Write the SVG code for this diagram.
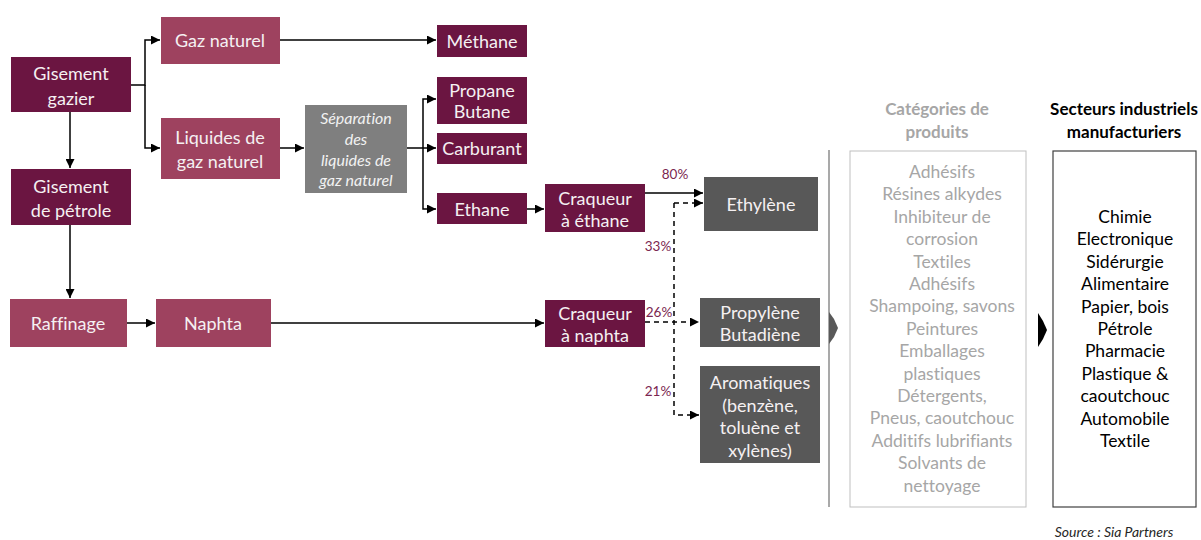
<svg xmlns="http://www.w3.org/2000/svg" width="1201" height="540" viewBox="0 0 1201 540">
<defs>
<marker id="ah" viewBox="0 0 10 10" refX="10" refY="5" markerWidth="9" markerHeight="9" markerUnits="userSpaceOnUse" orient="auto"><path d="M0,0 L10,5 L0,10 z" fill="#000"/></marker>
<style>
text{font-family:Lato,"Open Sans","Liberation Sans",sans-serif;text-anchor:middle;font-variant-ligatures:none;font-feature-settings:"liga" 0;}
.dk{fill:#6B1541;}
.md{fill:#9E425F;}
.gy{fill:#7F7F7F;}
.dg{fill:#585858;}
.wt{fill:#F5F0F2;font-size:18px;}
.it{fill:#F2F2F2;font-size:16px;font-style:italic;}
.ln{fill:none;stroke:#000;stroke-width:1.5;}
.ds{fill:none;stroke:#000;stroke-width:1.5;stroke-dasharray:5,4;}
.pc{fill:#7B2650;font-size:13.5px;}
.cat{fill:#A6A6A6;font-size:17.5px;}
.sec{fill:#000;font-size:17.5px;}
.ttl{font-size:17px;font-weight:bold;}
</style>
</defs>
<rect width="1201" height="540" fill="#fff"/>
<g id="connectors">
<path class="ln" d="M131,85 H145 V40 H160" marker-end="url(#ah)"/>
<path class="ln" d="M145,85 V148 H160" marker-end="url(#ah)"/>
<path class="ln" d="M70,112 V168" marker-end="url(#ah)"/>
<path class="ln" d="M70,224 V298" marker-end="url(#ah)"/>
<path class="ln" d="M280,40 H436" marker-end="url(#ah)"/>
<path class="ln" d="M280,148 H304" marker-end="url(#ah)"/>
<path class="ln" d="M407,148 H436" marker-end="url(#ah)"/>
<path class="ln" d="M423,148 V99 H436" marker-end="url(#ah)"/>
<path class="ln" d="M423,148 V209 H436" marker-end="url(#ah)"/>
<path class="ln" d="M527,209 H544" marker-end="url(#ah)"/>
<path class="ln" d="M127,323 H155" marker-end="url(#ah)"/>
<path class="ln" d="M271,323 H544" marker-end="url(#ah)"/>
<path class="ln" d="M645,193 H703" marker-end="url(#ah)"/>
<path class="ds" d="M645,322 H699" marker-end="url(#ah)"/>
<path class="ds" d="M674,203 V415 H699" marker-end="url(#ah)"/>
<path class="ds" d="M674,203 H703" marker-end="url(#ah)"/>
<text class="pc" x="675" y="179">80%</text>
<text class="pc" x="658" y="251">33%</text>
<text class="pc" x="659" y="317">26%</text>
<text class="pc" x="658" y="396">21%</text>
</g>
<g id="gisement-gazier"><rect class="dk" x="11" y="57" width="120" height="55"/><text class="wt" x="71" y="80">Gisement</text><text class="wt" x="71" y="105">gazier</text></g>
<g id="gisement-petrole"><rect class="dk" x="11" y="169" width="120" height="56"/><text class="wt" x="71" y="193">Gisement</text><text class="wt" x="71" y="217">de pétrole</text></g>
<g id="raffinage"><rect class="md" x="10" y="299" width="117" height="48"/><text class="wt" x="68" y="330">Raffinage</text></g>
<g id="naphta"><rect class="md" x="156" y="299" width="115" height="48"/><text class="wt" x="213" y="330">Naphta</text></g>
<g id="gaz-naturel"><rect class="md" x="161" y="17" width="119" height="47"/><text class="wt" x="220" y="47">Gaz naturel</text></g>
<g id="liquides"><rect class="md" x="161" y="118" width="119" height="61"/><text class="wt" x="220" y="144">Liquides de</text><text class="wt" x="220" y="168">gaz naturel</text></g>
<g id="separation"><rect class="gy" x="305" y="105" width="102" height="88"/><text class="it" x="356" y="124">Séparation</text><text class="it" x="356" y="145">des</text><text class="it" x="356" y="166">liquides de</text><text class="it" x="356" y="186">gaz naturel</text></g>
<g id="methane"><rect class="dk" x="437" y="25" width="90" height="32"/><text class="wt" x="482" y="48">Méthane</text></g>
<g id="propane"><rect class="dk" x="437" y="77" width="90" height="47"/><text class="wt" x="482" y="97">Propane</text><text class="wt" x="482" y="118">Butane</text></g>
<g id="carburant"><rect class="dk" x="437" y="133" width="90" height="31"/><text class="wt" x="482" y="155">Carburant</text></g>
<g id="ethane"><rect class="dk" x="437" y="193" width="90" height="31"/><text class="wt" x="482" y="216">Ethane</text></g>
<g id="craqueur-ethane"><rect class="dk" x="545" y="184" width="100" height="48"/><text class="wt" x="595" y="205">Craqueur</text><text class="wt" x="595" y="227">à éthane</text></g>
<g id="craqueur-naphta"><rect class="dk" x="545" y="300" width="100" height="47"/><text class="wt" x="595" y="320">Craqueur</text><text class="wt" x="595" y="342">à naphta</text></g>
<g id="ethylene"><rect class="dg" x="704" y="177" width="114" height="54"/><text class="wt" x="761" y="211">Ethylène</text></g>
<g id="propylene"><rect class="dg" x="700" y="298" width="120" height="49"/><text class="wt" x="760" y="319">Propylène</text><text class="wt" x="760" y="341">Butadiène</text></g>
<g id="aromatiques"><rect class="dg" x="700" y="366" width="120" height="97"/><text class="wt" x="760" y="389">Aromatiques</text><text class="wt" x="760" y="412">(benzène,</text><text class="wt" x="760" y="434">toluène et</text><text class="wt" x="760" y="457">xylènes)</text></g>
<g id="separator">
<line x1="829" y1="150" x2="829" y2="507" stroke="#8C8C8C" stroke-width="1.5"/>
<path d="M829,312 L834,319 L838,328 L834,337 L829,344 z" fill="#595959"/>
</g>
<g id="categories">
<text class="ttl" x="937" y="115" style="fill:#A6A6A6">Catégories de</text>
<text class="ttl" x="937" y="138" style="fill:#A6A6A6">produits</text>
<rect x="850" y="151" width="176" height="356" fill="none" stroke="#BFBFBF" stroke-width="1"/>
<text class="cat" x="942" y="178">Adhésifs</text>
<text class="cat" x="942" y="200">Résines alkydes</text>
<text class="cat" x="942" y="223">Inhibiteur de</text>
<text class="cat" x="942" y="245">corrosion</text>
<text class="cat" x="942" y="268">Textiles</text>
<text class="cat" x="942" y="290">Adhésifs</text>
<text class="cat" x="942" y="312">Shampoing, savons</text>
<text class="cat" x="942" y="335">Peintures</text>
<text class="cat" x="942" y="357">Emballages</text>
<text class="cat" x="942" y="380">plastiques</text>
<text class="cat" x="942" y="402">Détergents,</text>
<text class="cat" x="942" y="424">Pneus, caoutchouc</text>
<text class="cat" x="942" y="447">Additifs lubrifiants</text>
<text class="cat" x="942" y="469">Solvants de</text>
<text class="cat" x="942" y="492">nettoyage</text>
</g>
<g id="chevron2"><path d="M1038,313 L1043,321 L1047,330 L1043,339 L1038,347 z" fill="#000"/></g>
<g id="secteurs">
<text class="ttl" x="1124" y="115" style="fill:#000">Secteurs industriels</text>
<text class="ttl" x="1124" y="138" style="fill:#000">manufacturiers</text>
<rect x="1053" y="151" width="143" height="356" fill="none" stroke="#404040" stroke-width="1.2"/>
<text class="sec" x="1125" y="223">Chimie</text>
<text class="sec" x="1125" y="245">Electronique</text>
<text class="sec" x="1125" y="268">Sidérurgie</text>
<text class="sec" x="1125" y="290">Alimentaire</text>
<text class="sec" x="1125" y="313">Papier, bois</text>
<text class="sec" x="1125" y="335">Pétrole</text>
<text class="sec" x="1125" y="357">Pharmacie</text>
<text class="sec" x="1125" y="380">Plastique &amp;</text>
<text class="sec" x="1125" y="402">caoutchouc</text>
<text class="sec" x="1125" y="425">Automobile</text>
<text class="sec" x="1125" y="447">Textile</text>
</g>
<text x="1114" y="537" style="font-size:14px;font-style:italic;fill:#262626">Source : Sia Partners</text>
</svg>
